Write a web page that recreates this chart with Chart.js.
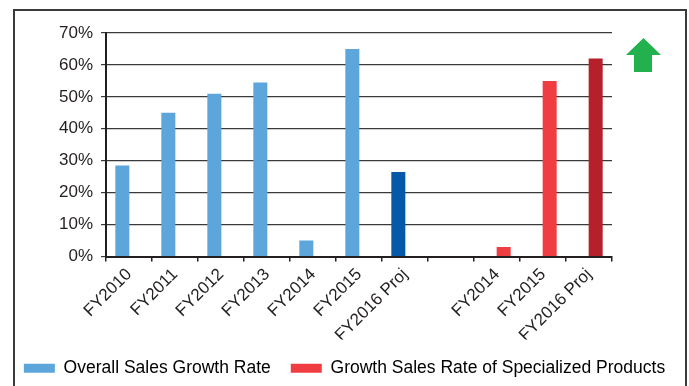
<!DOCTYPE html>
<html>
<head>
<meta charset="utf-8">
<script src="https://cdn.jsdelivr.net/npm/chart.js@4.4.1/dist/chart.umd.min.js"></script>
<style>
  html, body { margin: 0; padding: 0; background: #fff; }
  #frame { position: absolute; left: 13px; top: 9px; width: 670px; height: 400px; border: 2px solid #3a3a3a; }
  #wrap { position: absolute; left: 0; top: 0; width: 689px; height: 386px; }
</style>
</head>
<body>
<div id="frame"></div>
<div id="wrap"><canvas id="canvas" width="689" height="386"></canvas></div>
<script>
const categories = ['FY2010', 'FY2011', 'FY2012', 'FY2013', 'FY2014', 'FY2015', 'FY2016 Proj', '', 'FY2014', 'FY2015', 'FY2016 Proj'];
const overallGrowth = [28.5, 45, 51, 54.5, 5, 65, 26.5, null, null, null, null];
const specializedGrowth = [null, null, null, null, null, null, null, null, 3, 55, 62];
const overallColors = ['#5ca6dc', '#5ca6dc', '#5ca6dc', '#5ca6dc', '#5ca6dc', '#5ca6dc', '#0559a8', null, null, null, null];
const specializedColors = [null, null, null, null, null, null, null, null, '#ef3d42', '#ef3d42', '#b5202b'];
const seriesNames = ['Overall Sales Growth Rate', 'Growth Sales Rate of Specialized Products'];
const yTicks = [0, 10, 20, 30, 40, 50, 60, 70];

const canvas = document.getElementById('canvas');
const ctx = canvas.getContext('2d');
const font = "'Liberation Sans', Arial, sans-serif";
const ink = '#231f20';

// green "up" arrow in the top right corner
const arrowPlugin = {
  id: 'arrow',
  afterDraw(chart) {
    const c = chart.ctx;
    const x = chart.chartArea.right + 14;
    const y = chart.chartArea.top + 5;
    c.save();
    c.fillStyle = '#22b14c';
    c.beginPath();
    c.moveTo(x + 17.5, y);
    c.lineTo(x + 35, y + 17);
    c.lineTo(x + 26, y + 17);
    c.lineTo(x + 26, y + 34);
    c.lineTo(x + 8, y + 34);
    c.lineTo(x + 8, y + 17);
    c.lineTo(x, y + 17);
    c.closePath();
    c.fill();
    c.restore();
  }
};

const myChart = new Chart(ctx, {
  type: 'bar',
  data: {
    labels: categories,
    datasets: [
      {
        label: seriesNames[0],
        data: overallGrowth,
        backgroundColor: overallColors,
      },
      {
        label: seriesNames[1],
        data: specializedGrowth,
        backgroundColor: specializedColors,
      },
    ],
  },
  options: {
    responsive: false,
    animation: false,
    devicePixelRatio: 1,
    // clustered like the original: blue sits left of centre, red right
    categoryPercentage: 0.58,
    barPercentage: 1.05,
    layout: { padding: { top: 33, right: 0, bottom: -1, left: 0 } },
    plugins: {
      tooltip: { enabled: false },
      legend: {
        position: 'bottom',
        labels: {
          boxWidth: 31,
          boxHeight: 9,
          padding: 20,
          color: ink,
          font: { family: font, size: 17.5 },
          generateLabels: () => [
            { text: seriesNames[0], fillStyle: '#5ca6dc', strokeStyle: '#5ca6dc', lineWidth: 0, datasetIndex: 0 },
            { text: seriesNames[1], fillStyle: '#ef3d42', strokeStyle: '#ef3d42', lineWidth: 0, datasetIndex: 1 },
          ],
        },
      },
    },
    scales: {
      x: {
        offset: true,
        grid: { offset: true, drawOnChartArea: false, drawTicks: true, tickLength: 5, color: ink, lineWidth: 1.5 },
        border: { color: ink, width: 2 },
        ticks: { color: ink, font: { family: font, size: 17 }, minRotation: 45, maxRotation: 45, autoSkip: false, padding: 3 },
        afterFit: (scale) => { scale.height = 83; },
      },
      y: {
        min: 0,
        max: 70,
        afterBuildTicks: (scale) => { scale.ticks = yTicks.map((v) => ({ value: v })); },
        grid: { color: '#3a3a3a', lineWidth: 1.2, drawTicks: true, tickLength: 5 },
        border: { color: ink, width: 2 },
        ticks: { color: ink, font: { family: font, size: 17 }, padding: 8, callback: (v) => v + '%' },
        afterFit: (scale) => { scale.width = 106; },
      },
      // empty right axis, only keeps room for the arrow
      side: {
        position: 'right',
        display: true,
        grid: { display: false },
        border: { display: false },
        ticks: { display: false },
        afterFit: (scale) => { scale.width = 77; },
      },
    },
  },
  plugins: [arrowPlugin],
});
</script>
</body>
</html>
